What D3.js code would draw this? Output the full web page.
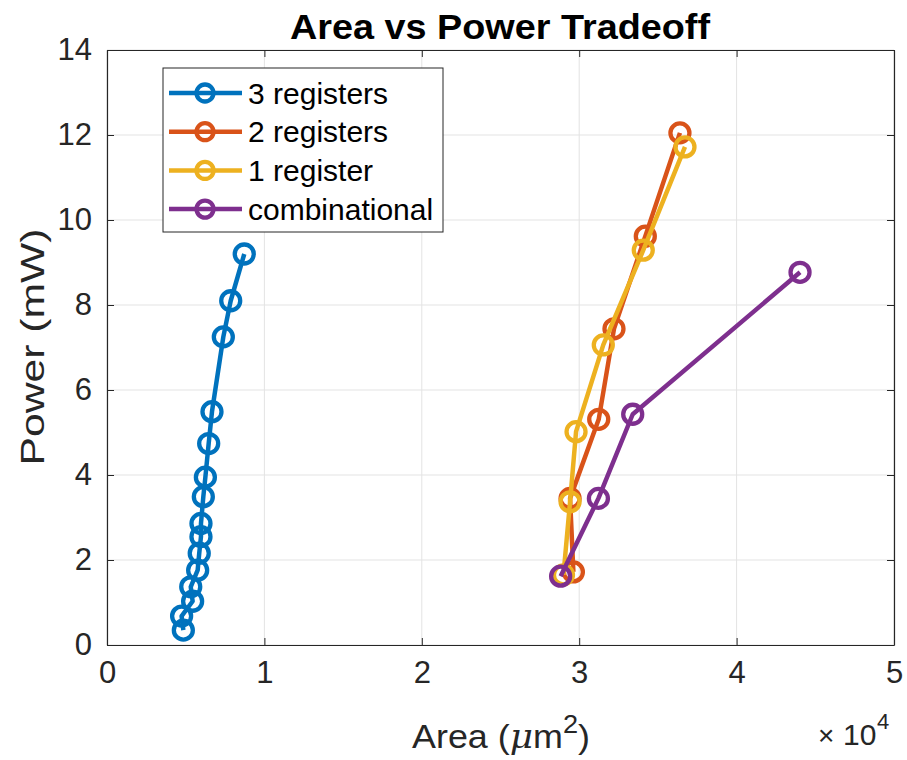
<!doctype html>
<html lang="en">
<head>
<meta charset="utf-8">
<script src="https://d3js.org/d3.v7.min.js"></script>
<style>
  body { margin: 0; background: #fff; }
  text { font-family: "Liberation Sans", Arial, sans-serif; }
</style>
</head>
<body>
<div id="chart"></div>
<script>
// series data: area (um^2), power (mW)
var names = ["3 registers", "2 registers", "1 register", "combinational"];
var colors = ["#0072BD", "#D95319", "#EDB120", "#7E2F8E"];

var areaReg3 = [4850, 4740, 5440, 5320, 5760, 5860, 5970, 5970, 6120, 6250, 6460, 6670, 7390, 7860, 8720];
var powerReg3 = [0.35, 0.68, 1.03, 1.37, 1.76, 2.16, 2.55, 2.86, 3.49, 3.95, 4.74, 5.49, 7.25, 8.10, 9.20];

var areaReg2 = [29630, 29420, 31240, 32210, 34200, 36400];
var powerReg2 = [1.72, 3.45, 5.31, 7.44, 9.62, 12.05];

var areaReg1 = [29000, 29420, 29800, 31530, 34070, 36720];
var powerReg1 = [1.65, 3.37, 5.02, 7.06, 9.29, 11.72];

var areaComb = [28820, 31220, 33400, 44030];
var powerComb = [1.62, 3.45, 5.43, 8.77];

var xTicks = [0, 1, 2, 3, 4, 5];
var yTicks = [0, 2, 4, 6, 8, 10, 12, 14];

var series = [
  {x: areaReg3, y: powerReg3},
  {x: areaReg2, y: powerReg2},
  {x: areaReg1, y: powerReg1},
  {x: areaComb, y: powerComb}
];

var W = 907, H = 760;
var margin = {top: 50, right: 13, bottom: 115, left: 107};
var width = W - margin.left - margin.right,
    height = H - margin.top - margin.bottom;

var svg = d3.select("#chart").append("svg")
  .attr("width", W).attr("height", H);

var x = d3.scaleLinear().domain([0, 5e4]).range([0, width]);
var y = d3.scaleLinear().domain([0, 14]).range([height, 0]);

var g = svg.append("g").attr("transform", "translate(" + margin.left + "," + margin.top + ")");

// grid
g.selectAll(".gx").data(xTicks).enter().append("line")
  .attr("x1", function(d) { return x(d * 1e4); }).attr("x2", function(d) { return x(d * 1e4); })
  .attr("y1", 0).attr("y2", height)
  .attr("stroke", "#e3e3e3").attr("stroke-width", 1);
g.selectAll(".gy").data(yTicks).enter().append("line")
  .attr("y1", function(d) { return y(d); }).attr("y2", function(d) { return y(d); })
  .attr("x1", 0).attr("x2", width)
  .attr("stroke", "#e3e3e3").attr("stroke-width", 1);

// axes
var xAxis = g.append("g").attr("transform", "translate(0," + height + ")")
  .call(d3.axisBottom(x).tickValues(xTicks.map(function(d) { return d * 1e4; }))
    .tickFormat(function(d) { return d / 1e4; }).tickSizeInner(-7).tickSizeOuter(0).tickPadding(16));
var xTop = g.append("g")
  .call(d3.axisTop(x).tickValues(xTicks.map(function(d) { return d * 1e4; }))
    .tickFormat("").tickSizeInner(-7).tickSizeOuter(0));
var yAxis = g.append("g")
  .call(d3.axisLeft(y).tickValues(yTicks).tickSizeInner(-7).tickSizeOuter(0).tickPadding(15));
var yRight = g.append("g").attr("transform", "translate(" + width + ",0)")
  .call(d3.axisRight(y).tickValues(yTicks).tickFormat("").tickSizeInner(-7).tickSizeOuter(0));

[xAxis, xTop, yAxis, yRight].forEach(function(a) {
  a.selectAll("path").attr("stroke", "#262626").attr("stroke-width", 1.2);
  a.selectAll("line").attr("stroke", "#262626").attr("stroke-width", 1);
  a.selectAll("text").attr("fill", "#262626").style("font-size", "31px");
});

// lines + markers
var line = d3.line()
  .x(function(d) { return x(d[0]); })
  .y(function(d) { return y(d[1]); });

series.forEach(function(s, i) {
  var pts = s.x.map(function(v, j) { return [v, s.y[j]]; });
  g.append("path").datum(pts)
    .attr("d", line)
    .attr("fill", "none")
    .attr("stroke", colors[i])
    .attr("stroke-width", 4.5)
    .attr("stroke-linejoin", "round");
  g.selectAll(".m" + i).data(pts).enter().append("circle")
    .attr("cx", function(d) { return x(d[0]); })
    .attr("cy", function(d) { return y(d[1]); })
    .attr("r", 9.5)
    .attr("fill", "none")
    .attr("stroke", colors[i])
    .attr("stroke-width", 4.3);
});

// legend
var lg = svg.append("g").attr("transform", "translate(163,68)");
lg.append("rect").attr("width", 280).attr("height", 164)
  .attr("fill", "#fff").attr("stroke", "#262626").attr("stroke-width", 1);
names.forEach(function(n, i) {
  var yy = 25 + i * 38.7;
  lg.append("line").attr("x1", 6).attr("x2", 79).attr("y1", yy).attr("y2", yy)
    .attr("stroke", colors[i]).attr("stroke-width", 4.5);
  lg.append("circle").attr("cx", 42).attr("cy", yy).attr("r", 8.5)
    .attr("fill", "none").attr("stroke", colors[i]).attr("stroke-width", 4.3);
  lg.append("text").attr("x", 85).attr("y", yy + 10.5)
    .style("font-size", "30px").attr("fill", "#000").text(n);
});

// title and labels
svg.append("text").attr("x", 500).attr("y", 39)
  .attr("text-anchor", "middle").style("font-size", "35px").style("font-weight", "bold")
  .attr("fill", "#000").attr("textLength", 420).attr("lengthAdjust", "spacingAndGlyphs")
  .text("Area vs Power Tradeoff");

svg.append("text")
  .attr("transform", "translate(44,347) rotate(-90)")
  .attr("text-anchor", "middle").style("font-size", "33px").attr("fill", "#262626")
  .attr("textLength", 237).attr("lengthAdjust", "spacingAndGlyphs")
  .text("Power (mW)");

var xl = svg.append("text").attr("x", 412).attr("y", 748)
  .style("font-size", "33px").attr("fill", "#262626")
  .attr("textLength", 178).attr("lengthAdjust", "spacingAndGlyphs");
xl.append("tspan").text("Area (");
xl.append("tspan").style("font-family", "'DejaVu Serif', serif").style("font-style", "italic").text("μ");
xl.append("tspan").text("m");
xl.append("tspan").attr("dy", -15).style("font-size", "25px").text("2");
xl.append("tspan").attr("dy", 15).text(")");

var ex = svg.append("text").attr("y", 745).attr("fill", "#262626");
ex.append("tspan").attr("x", 818).style("font-size", "28px").text("×");
ex.append("tspan").attr("x", 843).style("font-size", "30px").text("10");
ex.append("tspan").attr("x", 877).attr("dy", -16).style("font-size", "22px").text("4");
</script>
</body>
</html>
